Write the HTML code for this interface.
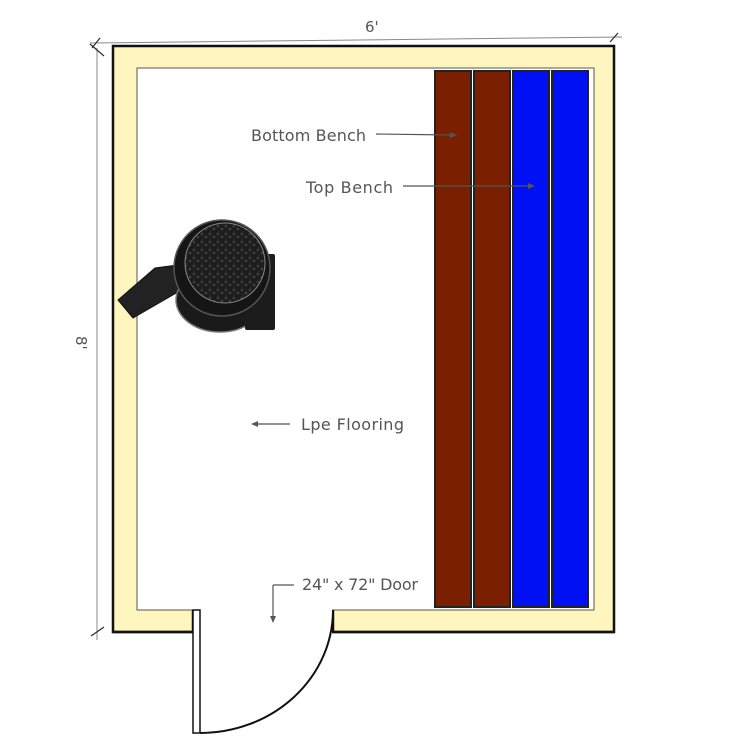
<!DOCTYPE html>
<html><head><meta charset="utf-8"><style>
html,body{margin:0;padding:0;background:#fff;}
svg{display:block;}
text{font-family:"DejaVu Sans","Liberation Sans",sans-serif;fill:#555;}
</style></head><body>
<svg width="750" height="750" viewBox="0 0 750 750" xmlns="http://www.w3.org/2000/svg">
<defs>
<pattern id="rock" width="8" height="8" patternUnits="userSpaceOnUse">
<rect width="8" height="8" fill="#1c1c1c"/>
<circle cx="2" cy="2" r="1.5" fill="#3a3a3a"/>
<circle cx="6" cy="5" r="1.3" fill="#444"/>
<circle cx="3" cy="7" r="0.8" fill="#2e2e2e"/>
</pattern>
</defs>
<!-- wall -->
<path d="M113,46 H614 V632 H333 V610 H193 V632 H113 Z" fill="#fff6bf" stroke="#111" stroke-width="2.5"/>
<rect x="137" y="68" width="457" height="542" fill="#fff" stroke="#555" stroke-width="1"/>
<rect x="194" y="609" width="138" height="25" fill="#fff"/>
<line x1="113" y1="632" x2="193" y2="632" stroke="#111" stroke-width="2.5"/>
<line x1="333" y1="632" x2="614" y2="632" stroke="#111" stroke-width="2.5"/>
<line x1="193" y1="610" x2="193" y2="632" stroke="#111" stroke-width="2"/>
<line x1="333" y1="610" x2="333" y2="632" stroke="#111" stroke-width="2"/>
<!-- door -->
<rect x="193" y="610" width="7" height="123" fill="#fff" stroke="#111" stroke-width="1.5"/>
<path d="M200,733 A133,123 0 0 0 333,610" fill="none" stroke="#111" stroke-width="2"/>
<!-- benches -->
<rect x="435" y="71" width="36" height="536" fill="#7a1f00" stroke="#222" stroke-width="2"/>
<rect x="474" y="71" width="36" height="536" fill="#7a1f00" stroke="#222" stroke-width="2"/>
<rect x="513" y="71" width="36" height="536" fill="#0010f5" stroke="#222" stroke-width="2"/>
<rect x="552" y="71" width="36" height="536" fill="#0010f5" stroke="#222" stroke-width="2"/>
<!-- dimensions -->
<line x1="90" y1="43" x2="622" y2="37" stroke="#888" stroke-width="1"/>
<line x1="92" y1="48" x2="100" y2="38" stroke="#333" stroke-width="1.3"/>
<line x1="610" y1="42" x2="618" y2="33" stroke="#333" stroke-width="1.3"/>
<line x1="97" y1="48" x2="97" y2="640" stroke="#888" stroke-width="1"/>
<line x1="90" y1="44" x2="104" y2="56" stroke="#333" stroke-width="1.3"/>
<line x1="91" y1="636" x2="104" y2="627" stroke="#333" stroke-width="1.3"/>
<text x="365" y="32" font-size="15">6'</text>
<text x="0" y="0" font-size="15" transform="translate(76,336) rotate(90)">8'</text>
<!-- heater -->
<polygon points="118,300 155,268 178,265 178,292 133,318" fill="#222" stroke="#111" stroke-width="1"/>
<ellipse cx="220" cy="300" rx="44" ry="32" fill="#1a1a1a" stroke="#777" stroke-width="1.5"/>
<rect x="245" y="254" width="30" height="76" rx="2" fill="#1c1c1c"/>
<circle cx="222" cy="268" r="48" fill="#151515" stroke="#555" stroke-width="1.5"/>
<circle cx="225" cy="263" r="40" fill="url(#rock)" stroke="#888" stroke-width="1"/>
<!-- labels -->
<text x="251" y="141" font-size="16" textLength="115">Bottom Bench</text>
<line x1="376" y1="134" x2="452" y2="135" stroke="#555" stroke-width="1.2"/>
<polygon points="457,135 450,132 450,138" fill="#555"/>
<text x="306" y="193" font-size="16" textLength="87">Top Bench</text>
<line x1="403" y1="186" x2="530" y2="186" stroke="#555" stroke-width="1.2"/>
<polygon points="535,186 528,183 528,189" fill="#555"/>
<text x="301" y="430" font-size="16" textLength="103">Lpe Flooring</text>
<line x1="256" y1="424" x2="290" y2="424" stroke="#555" stroke-width="1.2"/>
<polygon points="251,424 258,421 258,427" fill="#555"/>
<text x="302" y="590" font-size="16" textLength="116">24" x 72" Door</text>
<line x1="273" y1="585" x2="294" y2="585" stroke="#555" stroke-width="1.2"/>
<line x1="273" y1="585" x2="273" y2="617" stroke="#555" stroke-width="1.2"/>
<polygon points="273,623 270,616 276,616" fill="#555"/>
</svg>
</body></html>
